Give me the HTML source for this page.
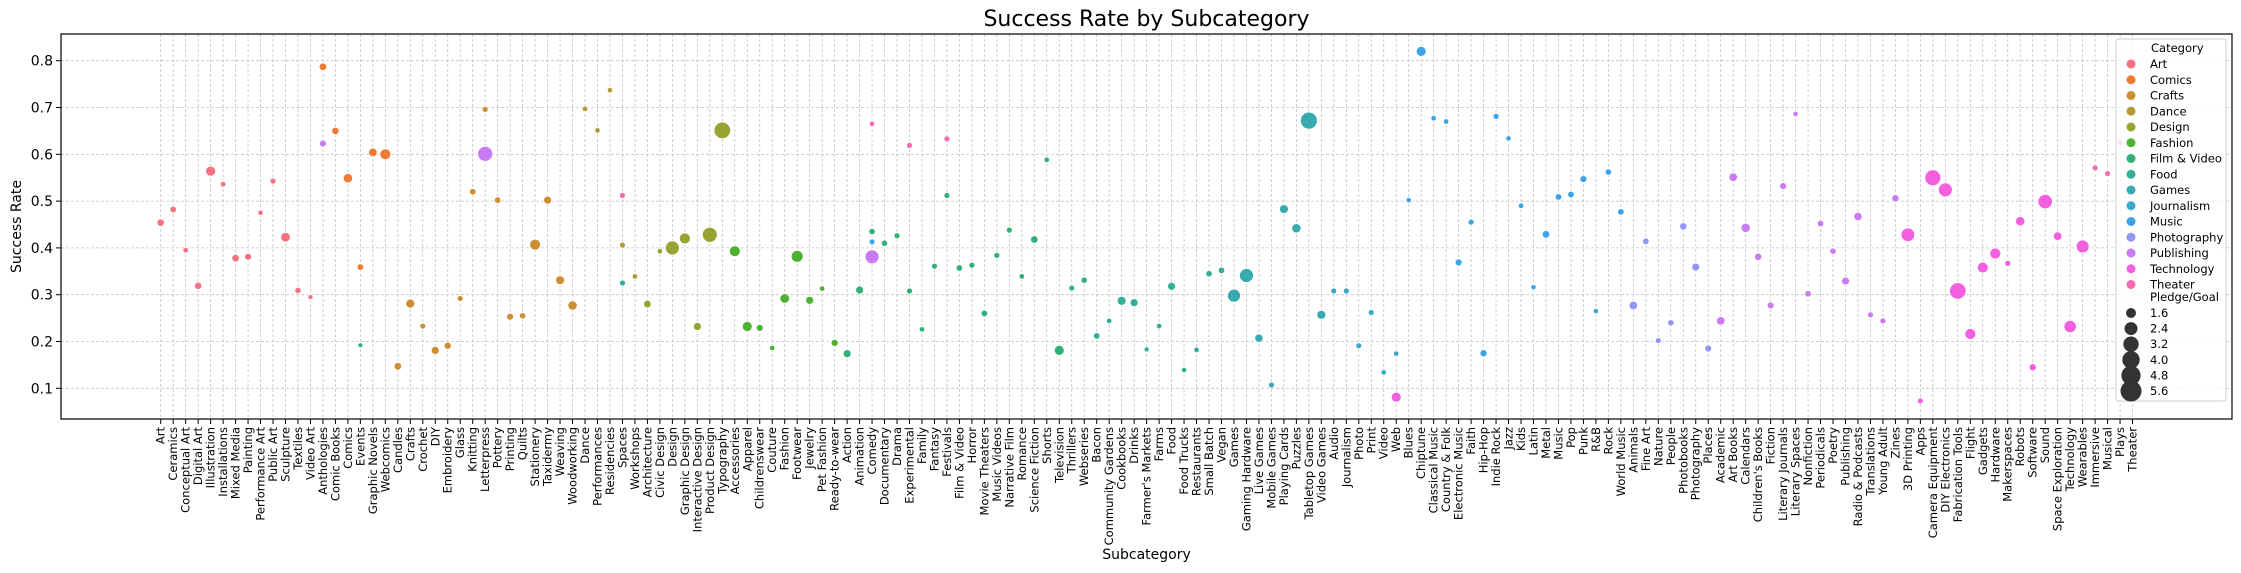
<!DOCTYPE html>
<html><head><meta charset="utf-8"><style>
html,body{margin:0;padding:0;background:#fff;}
svg{display:block;font-family:"DejaVu Sans","Liberation Sans",sans-serif;}
</style></head><body>
<svg id="chart" width="2241" height="573" viewBox="0 0 2241 573"></svg>
<script>
const subcategories = ["Art","Ceramics","Conceptual Art","Digital Art","Illustration","Installations","Mixed Media","Painting","Performance Art","Public Art","Sculpture","Textiles","Video Art","Anthologies","Comic Books","Comics","Events","Graphic Novels","Webcomics","Candles","Crafts","Crochet","DIY","Embroidery","Glass","Knitting","Letterpress","Pottery","Printing","Quilts","Stationery","Taxidermy","Weaving","Woodworking","Dance","Performances","Residencies","Spaces","Workshops","Architecture","Civic Design","Design","Graphic Design","Interactive Design","Product Design","Typography","Accessories","Apparel","Childrenswear","Couture","Fashion","Footwear","Jewelry","Pet Fashion","Ready-to-wear","Action","Animation","Comedy","Documentary","Drama","Experimental","Family","Fantasy","Festivals","Film & Video","Horror","Movie Theaters","Music Videos","Narrative Film","Romance","Science Fiction","Shorts","Television","Thrillers","Webseries","Bacon","Community Gardens","Cookbooks","Drinks","Farmer's Markets","Farms","Food","Food Trucks","Restaurants","Small Batch","Vegan","Games","Gaming Hardware","Live Games","Mobile Games","Playing Cards","Puzzles","Tabletop Games","Video Games","Audio","Journalism","Photo","Print","Video","Web","Blues","Chiptune","Classical Music","Country & Folk","Electronic Music","Faith","Hip-Hop","Indie Rock","Jazz","Kids","Latin","Metal","Music","Pop","Punk","R&B","Rock","World Music","Animals","Fine Art","Nature","People","Photobooks","Photography","Places","Academic","Art Books","Calendars","Children's Books","Fiction","Literary Journals","Literary Spaces","Nonfiction","Periodicals","Poetry","Publishing","Radio & Podcasts","Translations","Young Adult","Zines","3D Printing","Apps","Camera Equipment","DIY Electronics","Fabrication Tools","Flight","Gadgets","Hardware","Makerspaces","Robots","Software","Sound","Space Exploration","Technology","Wearables","Immersive","Musical","Plays","Theater"];
const categories = ["Art","Comics","Crafts","Dance","Design","Fashion","Film & Video","Food","Games","Journalism","Music","Photography","Publishing","Technology","Theater"];
const categoryColors = ["#f5717f","#ee7a33","#cc8f33","#b09c33","#98a431","#4fb131","#33b079","#35ae99","#37abb0","#3aa8c9","#3ca2ea","#9196f4","#c97bf4","#f45fe0","#f66aae"];
const pointSub = ["Art","Ceramics","Conceptual Art","Digital Art","Illustration","Installations","Mixed Media","Painting","Performance Art","Public Art","Sculpture","Textiles","Video Art","Anthologies","Anthologies","Comic Books","Comics","Events","Events","Graphic Novels","Webcomics","Candles","Crafts","Crochet","DIY","Embroidery","Glass","Knitting","Letterpress","Letterpress","Pottery","Printing","Quilts","Stationery","Taxidermy","Weaving","Woodworking","Dance","Performances","Residencies","Spaces","Spaces","Spaces","Workshops","Architecture","Civic Design","Design","Graphic Design","Interactive Design","Product Design","Typography","Accessories","Apparel","Childrenswear","Couture","Fashion","Footwear","Jewelry","Pet Fashion","Ready-to-wear","Action","Animation","Comedy","Comedy","Comedy","Comedy","Documentary","Drama","Experimental","Experimental","Family","Fantasy","Festivals","Festivals","Film & Video","Horror","Movie Theaters","Music Videos","Narrative Film","Romance","Science Fiction","Shorts","Television","Thrillers","Webseries","Bacon","Community Gardens","Cookbooks","Drinks","Farmer's Markets","Farms","Food","Food Trucks","Restaurants","Small Batch","Vegan","Games","Gaming Hardware","Live Games","Mobile Games","Playing Cards","Puzzles","Tabletop Games","Video Games","Audio","Journalism","Photo","Print","Video","Web","Web","Blues","Chiptune","Classical Music","Country & Folk","Electronic Music","Faith","Hip-Hop","Indie Rock","Jazz","Kids","Latin","Metal","Music","Pop","Punk","R&B","Rock","World Music","Animals","Fine Art","Nature","People","Photobooks","Photography","Places","Academic","Art Books","Calendars","Children's Books","Fiction","Literary Journals","Literary Spaces","Nonfiction","Periodicals","Poetry","Publishing","Radio & Podcasts","Translations","Young Adult","Zines","3D Printing","Apps","Camera Equipment","DIY Electronics","Fabrication Tools","Flight","Gadgets","Hardware","Makerspaces","Robots","Software","Sound","Space Exploration","Technology","Wearables","Immersive","Musical","Plays"];
const pointCat = ["Art","Art","Art","Art","Art","Art","Art","Art","Art","Art","Art","Art","Art","Comics","Publishing","Comics","Comics","Comics","Food","Comics","Comics","Crafts","Crafts","Crafts","Crafts","Crafts","Crafts","Crafts","Crafts","Publishing","Crafts","Crafts","Crafts","Crafts","Crafts","Crafts","Crafts","Dance","Dance","Dance","Theater","Dance","Food","Dance","Design","Design","Design","Design","Design","Design","Design","Fashion","Fashion","Fashion","Fashion","Fashion","Fashion","Fashion","Fashion","Fashion","Film & Video","Film & Video","Theater","Film & Video","Music","Publishing","Film & Video","Film & Video","Theater","Film & Video","Film & Video","Film & Video","Theater","Film & Video","Film & Video","Film & Video","Film & Video","Film & Video","Film & Video","Film & Video","Film & Video","Film & Video","Film & Video","Film & Video","Film & Video","Food","Food","Food","Food","Food","Food","Food","Food","Food","Food","Food","Games","Games","Games","Games","Games","Games","Games","Games","Journalism","Journalism","Journalism","Journalism","Journalism","Journalism","Technology","Music","Music","Music","Music","Music","Music","Music","Music","Music","Music","Music","Music","Music","Music","Music","Music","Music","Music","Photography","Photography","Photography","Photography","Photography","Photography","Photography","Publishing","Publishing","Publishing","Publishing","Publishing","Publishing","Publishing","Publishing","Publishing","Publishing","Publishing","Publishing","Publishing","Publishing","Publishing","Technology","Technology","Technology","Technology","Technology","Technology","Technology","Technology","Technology","Technology","Technology","Technology","Technology","Technology","Technology","Theater","Theater","Theater"];
const pointRate = [0.454,0.482,0.395,0.319,0.564,0.536,0.378,0.381,0.475,0.543,0.423,0.309,0.295,0.787,0.623,0.650,0.549,0.359,0.192,0.604,0.600,0.147,0.281,0.233,0.181,0.191,0.292,0.520,0.696,0.601,0.502,0.253,0.255,0.407,0.502,0.331,0.277,0.697,0.651,0.737,0.512,0.406,0.325,0.339,0.280,0.393,0.400,0.420,0.232,0.428,0.651,0.393,0.232,0.229,0.186,0.292,0.382,0.288,0.313,0.197,0.174,0.310,0.665,0.435,0.413,0.381,0.410,0.426,0.619,0.308,0.226,0.361,0.633,0.512,0.357,0.363,0.260,0.384,0.438,0.339,0.418,0.588,0.181,0.314,0.331,0.212,0.244,0.287,0.283,0.183,0.233,0.318,0.139,0.182,0.345,0.352,0.298,0.341,0.207,0.107,0.483,0.442,0.672,0.257,0.308,0.308,0.191,0.262,0.134,0.174,0.081,0.502,0.820,0.677,0.670,0.369,0.455,0.175,0.681,0.634,0.490,0.316,0.429,0.509,0.514,0.547,0.265,0.562,0.477,0.277,0.414,0.202,0.240,0.446,0.359,0.185,0.244,0.551,0.443,0.381,0.277,0.532,0.686,0.302,0.452,0.393,0.329,0.467,0.257,0.244,0.506,0.428,0.073,0.550,0.524,0.308,0.216,0.358,0.388,0.367,0.457,0.145,0.499,0.425,0.232,0.403,0.571,0.559,0.625];
const pointPledge = [1.07,0.94,0.79,1.07,1.6,0.79,1.10,1.0,0.77,0.85,1.51,0.91,0.74,1.10,1.0,1.07,1.46,0.94,0.72,1.29,1.85,1.10,1.38,0.85,1.18,1.03,0.85,0.94,0.85,3.07,0.94,1.0,0.91,1.85,1.18,1.38,1.46,0.79,0.77,0.77,0.85,0.85,0.85,0.79,1.10,0.79,2.73,1.85,1.18,3.07,3.67,1.85,1.6,1.0,0.79,1.51,2.12,1.18,0.79,1.03,1.18,1.18,0.79,0.91,0.85,2.73,0.91,0.85,0.85,0.85,0.79,0.85,0.85,0.85,0.94,0.85,0.94,0.85,0.85,0.79,1.10,0.79,1.6,0.85,0.91,0.94,0.79,1.38,1.18,0.74,0.79,1.18,0.77,0.79,0.94,0.94,2.41,2.73,1.25,0.85,1.38,1.46,3.82,1.38,0.85,0.85,0.85,0.85,0.79,0.79,1.6,0.77,1.6,0.79,0.79,1.0,0.85,1.03,0.85,0.77,0.79,0.77,1.10,0.94,0.94,1.0,0.77,0.91,0.94,1.29,0.94,0.85,0.91,1.07,1.18,1.0,1.29,1.29,1.46,1.07,1.0,1.0,0.79,0.94,0.94,0.91,1.18,1.25,0.85,0.85,1.07,2.6,0.85,3.44,2.73,3.67,1.85,1.85,1.85,0.85,1.46,1.03,2.86,1.29,2.23,2.41,0.85,0.85,0.85];
const yTicks = [0.1,0.2,0.3,0.4,0.5,0.6,0.7,0.8];
const yTickLabels = ["0.1","0.2","0.3","0.4","0.5","0.6","0.7","0.8"];
const legendSizes = [1.6,2.4,3.2,4.0,4.8,5.6];
const legendSizeLabels = ["1.6","2.4","3.2","4.0","4.8","5.6"];

const NS = "http://www.w3.org/2000/svg";
const svg = document.getElementById("chart");
const L = 61, R = 2232, T = 34, B = 419;
const x0 = 160.7, dx = 12.48;
function xScale(i){ return x0 + dx * i; }
function yScale(v){ return 435.1 - 468 * v; }
function rScale(p){ return Math.sqrt(Math.max(4, 21.25 * p - 9)); }
function mk(tag, attrs, parent){
  const e = document.createElementNS(NS, tag);
  for (const k in attrs) e.setAttribute(k, attrs[k]);
  (parent || svg).appendChild(e);
  return e;
}

// title
const title = mk("text", {x:(L+R)/2, y:26, "text-anchor":"middle", "font-size":"22", fill:"#000"});
title.textContent = "Success Rate by Subcategory";



// grid
const grid = mk("g", {stroke:"#b0b0b0", "stroke-width":"0.8", "stroke-dasharray":"3,2", opacity:"0.75"});


subcategories.forEach((s, i) => {
  const gl = mk("line", {x1:xScale(i), x2:xScale(i), y1:T, y2:B}, grid);
  
  
});
yTicks.forEach(v => {
  const gl = mk("line", {x1:L, x2:R, y1:yScale(v), y2:yScale(v)}, grid);
  
  
});

// y ticks
const yAxis = mk("g", {});


yTicks.forEach((v, k) => {
  mk("line", {x1:L-5, x2:L, y1:yScale(v), y2:yScale(v), stroke:"#000", "stroke-width":"1"}, yAxis);
  const t = mk("text", {x:L-8, y:yScale(v)+5, "text-anchor":"end", "font-size":"14", fill:"#000"}, yAxis);
  t.textContent = yTickLabels[k];
  
  
});
const yTitle = mk("text", {x:0, y:0, transform:"translate(21,"+((T+B)/2)+") rotate(-90)", "text-anchor":"middle", "font-size":"14", fill:"#000"});
yTitle.textContent = "Success Rate";



// x ticks
const xAxis = mk("g", {});


subcategories.forEach((s, i) => {
  const x = xScale(i);
  mk("line", {x1:x, x2:x, y1:B, y2:B+5, stroke:"#000", "stroke-width":"1"}, xAxis);
  const t = mk("text", {x:0, y:0, transform:"translate("+(x+4)+","+(B+8)+") rotate(-90)", "text-anchor":"end", "font-size":"11.5", fill:"#000"}, xAxis);
  t.textContent = s;
  
  
});
const xTitle = mk("text", {x:(L+R)/2, y:559, "text-anchor":"middle", "font-size":"14", fill:"#000"});
xTitle.textContent = "Subcategory";



// points
const pts = mk("g", {});


pointRate.forEach((v, k) => {
  const i = subcategories.indexOf(pointSub[k]);
  const c = categoryColors[categories.indexOf(pointCat[k])];
  const dot = mk("circle", {cx:xScale(i), cy:yScale(v), r:rScale(pointPledge[k]), fill:c, stroke:"#fff", "stroke-width":"0.8"}, pts);
  
  
});

// frame
const frame = mk("rect", {x:L, y:T, width:R-L, height:B-T, fill:"none", stroke:"#000", "stroke-width":"1.2"});



// legend
const lg = mk("g", {});


mk("rect", {x:2116, y:39, width:110, height:362, rx:3, fill:"#fff", "fill-opacity":"0.82", stroke:"#ccc", "stroke-width":"1"}, lg);
const lh = mk("text", {x:2151, y:52, "font-size":"11.5", fill:"#000"}, lg);
lh.textContent = "Category";


categories.forEach((c, k) => {
  const y = 64 + k * 15.75;
  mk("circle", {cx:2131, cy:y, r:4.5, fill:categoryColors[k]}, lg);
  const t = mk("text", {x:2150, y:y+4, "font-size":"11.5", fill:"#000"}, lg);
  t.textContent = c;
  
  
});
const ls = mk("text", {x:2150, y:301, "font-size":"11.5", fill:"#000"}, lg);
ls.textContent = "Pledge/Goal";


legendSizes.forEach((p, k) => {
  const y = 313 + k * 15.6;
  mk("circle", {cx:2131, cy:y, r:rScale(p), fill:"#333"}, lg);
  const t = mk("text", {x:2150, y:y+4, "font-size":"11.5", fill:"#000"}, lg);
  t.textContent = legendSizeLabels[k];
  
  
});
</script>
</body></html>
